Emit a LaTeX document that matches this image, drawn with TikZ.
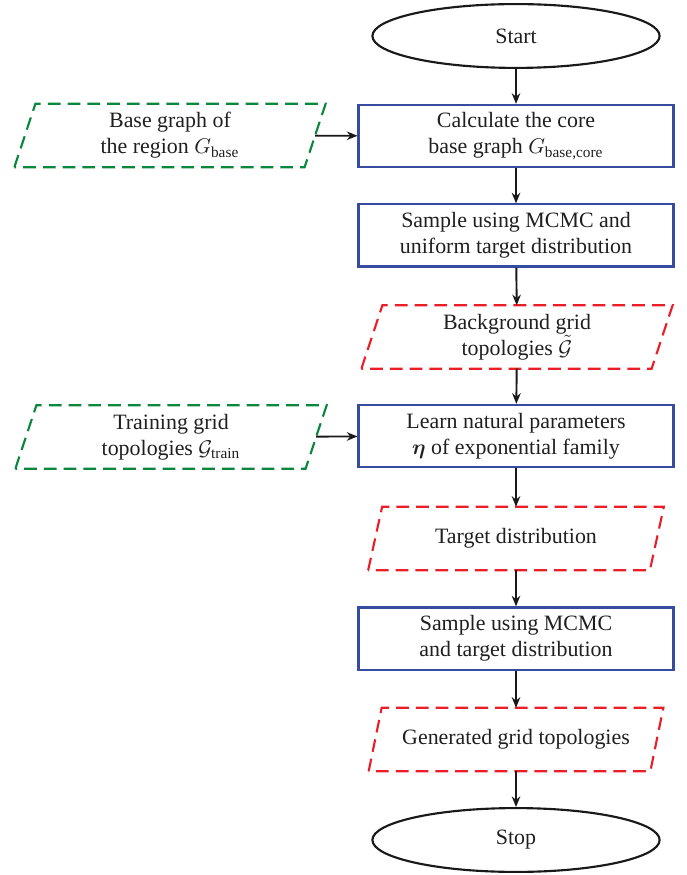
\documentclass[tikz,border=0pt]{standalone}
\usepackage{amsmath}
\usepackage{bm}
\usepackage{fontspec}
\setmainfont{Liberation Serif}
\usetikzlibrary{shapes.geometric,arrows.meta,calc}
\definecolor{boxblue}{RGB}{55,75,160}
\definecolor{ingreen}{RGB}{10,135,60}
\definecolor{outred}{RGB}{235,30,40}
\newcommand{\pgram}[3]{%
  \draw[pgline,#3] ($(#1.south west)+(-#2/2,0)$) -- ($(#1.north west)+(#2/2,0)$) --
    ($(#1.north east)+(#2/2,0)$) -- ($(#1.south east)+(-#2/2,0)$) -- cycle;}
\begin{document}
\begin{tikzpicture}[x=0.47pt,y=-0.47pt,
  font=\fontsize{10.3pt}{12.3pt}\selectfont,
  every node/.style={align=center,inner sep=0pt,text=black!88},
  termnode/.style={ellipse,draw=black!90,line width=1pt,minimum width=135pt,minimum height=30pt},
  procbox/.style={rectangle,draw=boxblue,line width=1pt,minimum width=148pt,minimum height=29.2pt},
  pgtext/.style={rectangle,minimum width=136pt,minimum height=29.4pt},
  pgline/.style={line width=1pt,dash pattern=on 6pt off 3.3pt},
  flow/.style={-{Stealth[length=5pt,width=4pt]},line width=0.9pt,black!90}]
\useasboundingbox (0,0) rectangle (686,875);
\node[termnode] (start) at (516,36) {Start};
\node[procbox] (core) at (516,136) {Calculate the core\\base graph $G_{\text{base,core}}$};
\node[procbox] (samp1) at (516,235.5) {Sample using MCMC and\\uniform target distribution};
\node[pgtext] (bg) at (517,337) {Background grid\\topologies $\tilde{\mathcal{G}}$};
\node[procbox] (learn) at (516,436) {Learn natural parameters\\$\bm{\eta}$ of exponential family};
\node[pgtext,minimum width=132pt] (target) at (516,538.5) {Target distribution};
\node[procbox] (samp2) at (516,638.5) {Sample using MCMC\\and target distribution};
\node[pgtext,minimum width=132pt] (gen) at (516,739.5) {Generated grid topologies};
\node[termnode] (stop) at (516,840) {Stop};
\node[pgtext] (base) at (170,135.5) {Base graph of\\the region $G_{\text{base}}$};
\node[pgtext] (train) at (171,437) {Training grid\\topologies $\mathcal{G}_{\text{train}}$};
\pgram{bg}{21}{outred}
\pgram{target}{14}{outred}
\pgram{gen}{13}{outred}
\pgram{base}{21}{ingreen}
\pgram{train}{21}{ingreen}
\draw[flow] (start) -- (core);
\draw[flow] (core) -- (samp1);
\draw[flow] (samp1) -- (bg);
\draw[flow] (bg) -- (learn);
\draw[flow] (learn) -- (target);
\draw[flow] (target) -- (samp2);
\draw[flow] (samp2) -- (gen);
\draw[flow] (gen) -- (stop);
\draw[flow] (base) -- (core);
\draw[flow] (train) -- (learn);
\end{tikzpicture}
\end{document}
